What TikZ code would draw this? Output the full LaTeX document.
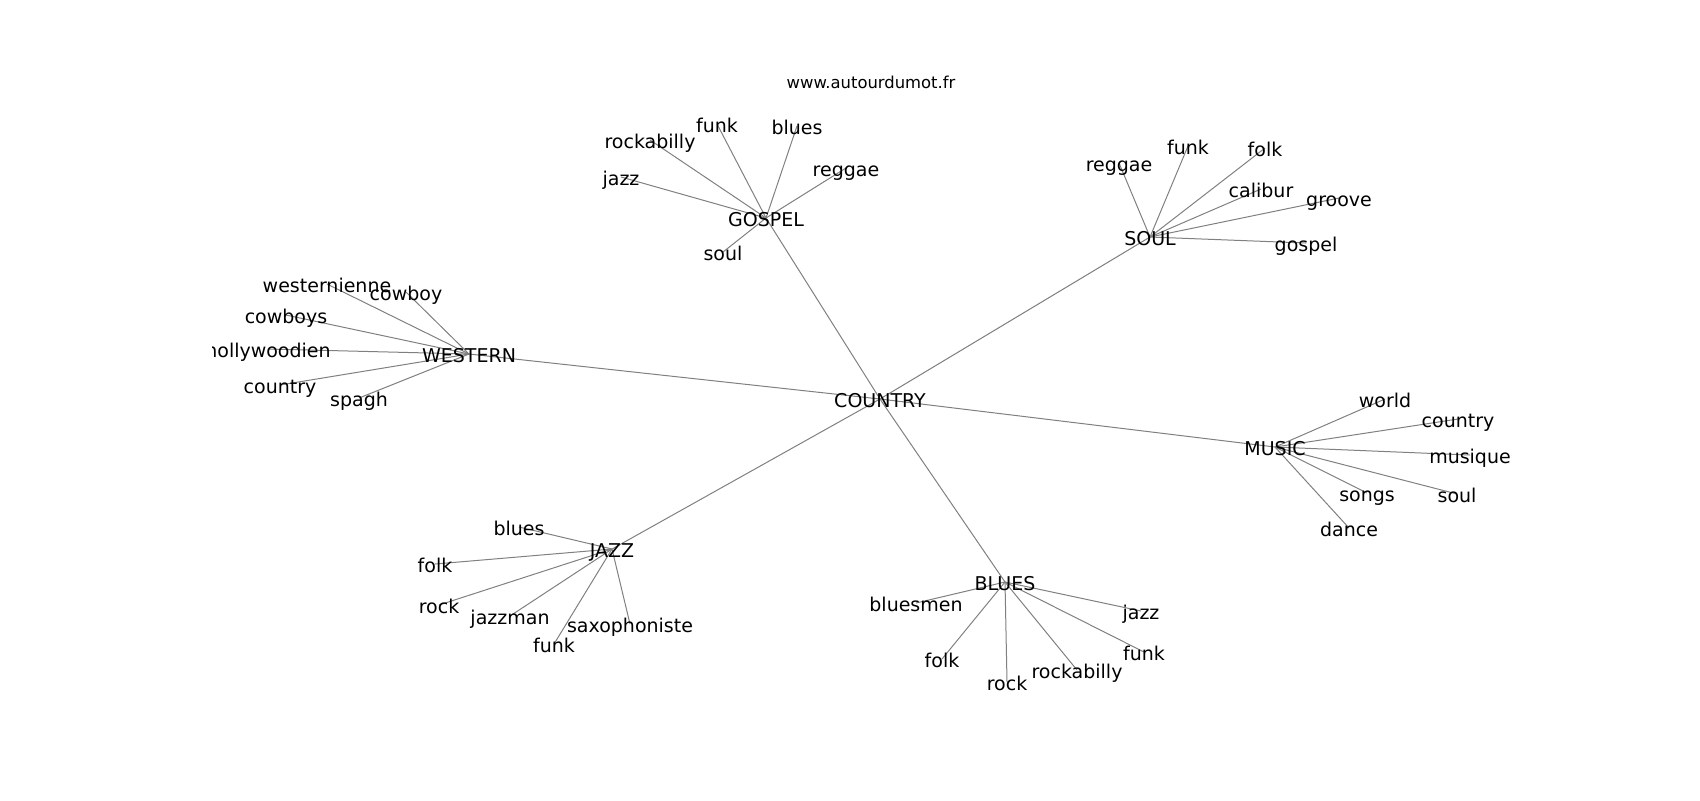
\documentclass[tikz,border=0pt]{standalone}
\usepackage{fontspec}
\setmainfont{DejaVu Sans}
\pgfdeclarelayer{bg}
\pgfsetlayers{bg,main}
\tikzset{
  word/.style={inner sep=0pt, text height=0.98em, text depth=0.12em, font=\fontsize{9.5}{11}\selectfont},
  edge/.style={draw=black!50, line width=0.5pt},
}

\begin{document}
\begin{tikzpicture}[x=0.5pt,y=-0.5pt]
\useasboundingbox (0,0) rectangle (1700,800);
\node[font=\fontsize{8.2}{10}\selectfont] (title) at (871,82) {www.autourdumot.fr};
\begin{scope}
\clip (212.5,96) rectangle (1530,712);
% centre and the six groups
\node[word] (country) at (880,399) {COUNTRY};
\node[word] (western) at (469,354) {WESTERN};
\node[word] (gospel) at (766,218) {GOSPEL};
\node[word] (soul) at (1150,237) {SOUL};
\node[word] (music) at (1275,447) {MUSIC};
\node[word] (jazz) at (612,549) {JAZZ};
\node[word] (blues) at (1005,582) {BLUES};
\begin{pgfonlayer}{bg}
\foreach \g in {western,gospel,soul,music,jazz,blues}
  \draw[edge] (country.center) -- (\g.center);
\end{pgfonlayer}
% leaves
\foreach \w/\x/\y in {westernienne/327/284, cowboy/406/292, cowboys/286/315, hollywoodien/268/349, country/280/385, spagh/359/398} {
  \node[word] (western-\w) at (\x,\y) {\w};
  \begin{pgfonlayer}{bg}\draw[edge] (western.center) -- (western-\w.center);\end{pgfonlayer}
}
\foreach \w/\x/\y in {jazz/621/177, rockabilly/650/140, funk/717/124, blues/797/126, reggae/846/168, soul/723/252} {
  \node[word] (gospel-\w) at (\x,\y) {\w};
  \begin{pgfonlayer}{bg}\draw[edge] (gospel.center) -- (gospel-\w.center);\end{pgfonlayer}
}
\foreach \w/\x/\y in {reggae/1119/163, funk/1188/146, folk/1265/148, calibur/1261/189, groove/1339/198, gospel/1306/243} {
  \node[word] (soul-\w) at (\x,\y) {\w};
  \begin{pgfonlayer}{bg}\draw[edge] (soul.center) -- (soul-\w.center);\end{pgfonlayer}
}
\foreach \w/\x/\y in {world/1385/399, country/1458/419, musique/1470/455, soul/1457/494, songs/1367/493, dance/1349/528} {
  \node[word] (music-\w) at (\x,\y) {\w};
  \begin{pgfonlayer}{bg}\draw[edge] (music.center) -- (music-\w.center);\end{pgfonlayer}
}
\foreach \w/\x/\y in {blues/519/527, folk/435/564, rock/439/605, jazzman/510/616, saxophoniste/630/624, funk/554/644} {
  \node[word] (jazz-\w) at (\x,\y) {\w};
  \begin{pgfonlayer}{bg}\draw[edge] (jazz.center) -- (jazz-\w.center);\end{pgfonlayer}
}
\foreach \w/\x/\y in {bluesmen/916/603, folk/942/659, rock/1007/682, rockabilly/1077/670, jazz/1141/611, funk/1144/652} {
  \node[word] (blues-\w) at (\x,\y) {\w};
  \begin{pgfonlayer}{bg}\draw[edge] (blues.center) -- (blues-\w.center);\end{pgfonlayer}
}
\end{scope}
\end{tikzpicture}
\end{document}
